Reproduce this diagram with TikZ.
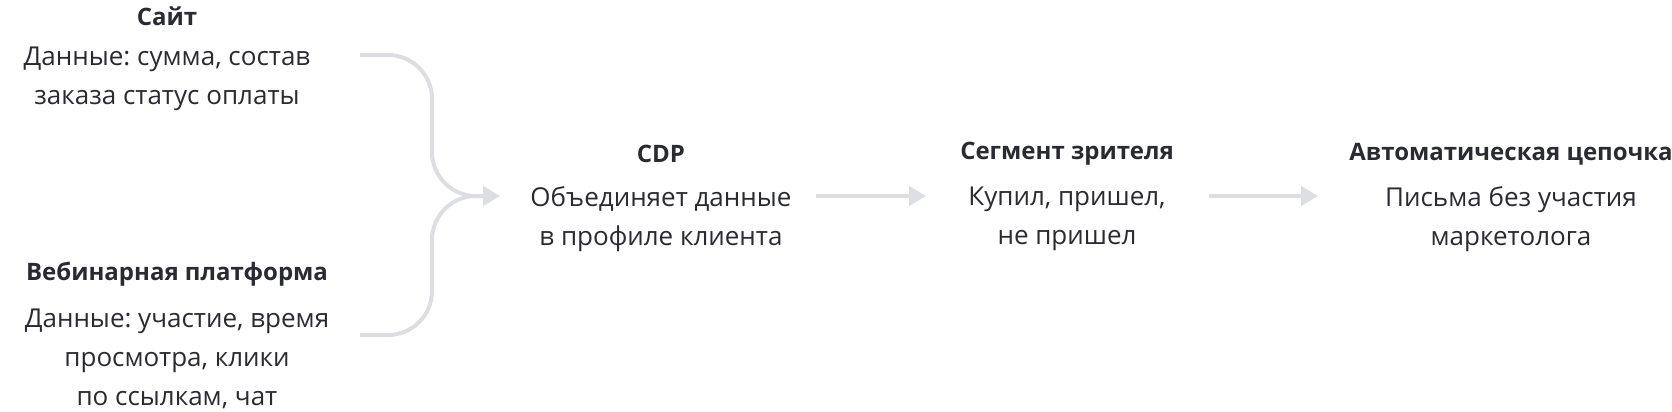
\documentclass[tikz,border=0pt]{standalone}
\usepackage{fontspec}
\setmainfont{Open Sans}
\frenchspacing
\usetikzlibrary{arrows.meta}
\definecolor{ink}{HTML}{2A2B30}
\definecolor{wire}{HTML}{DCDEE2}
\begin{document}
\begin{tikzpicture}[x=0.5pt,y=-0.5pt,
title/.style ={text=ink, font=\fontsize{12}{19.5}\selectfont\bfseries,
  inner sep=0pt
},
info/.style ={text=ink, font=\fontsize{13}{19.5}\selectfont,
  align=center, inner sep=0pt
},
flow/.style ={draw=wire, line width=2pt,
  -{Triangle[length=8.5pt,width=9.5pt]}
},
brace/.style ={flow, rounded corners=22pt}]
\useasboundingbox (0,0) rectangle (1672,412);
% sources
\node (site) at (167,16) [title] {Сайт};
\node (sitedata) at (167,79) [info] {Данные: сумма, состав\\заказа статус оплаты};
\node (web) at (177,274) [title] {Вебинарная платформа};
\node (webdata) at (177,359) [info] {Данные: участие, время\\просмотра, клики\\по ссылкам, чат};
% chain
\node (cdp) at (661,154) [title] {CDP};
\node (cdpdata) at (661,219) [info] {Объединяет данные\\в профиле клиента};
\node (seg) at (1067,154) [title] {Сегмент зрителя};
\node (segdata) at (1067,219) [info] {Купил, пришел,\\не пришел};
\node (auto) at (1511,154) [title] {Автоматическая цепочка};
\node (autodata) at (1511,219) [info] {Письма без участия\\маркетолога};
% connectors
\coordinate (in1) at (360,55);
\coordinate (in2) at (360,335);
\coordinate (join) at (500,196);
\coordinate (out1) at (816,196);
\coordinate (to1) at (926,196);
\coordinate (out2) at (1209,196);
\coordinate (to2) at (1318,196);
\draw[brace] (in1) -- (432,55) -- (432,196) -- (join);
\draw[brace] (in2) -- (432,335) -- (432,196) -- (join);
\draw[flow] (out1) -- (to1);
\draw[flow] (out2) -- (to2);
\end{tikzpicture}
\end{document}
